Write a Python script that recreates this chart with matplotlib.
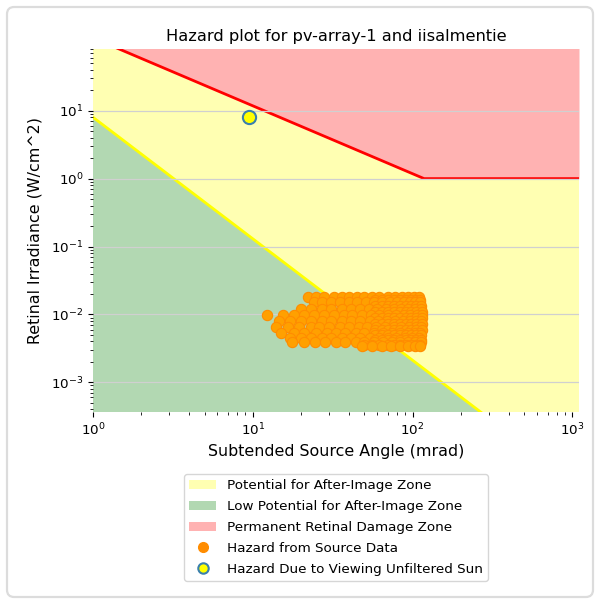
import matplotlib
matplotlib.use("Agg")
import matplotlib.pyplot as plt
from matplotlib.patches import FancyBboxPatch, Patch
from matplotlib.lines import Line2D

# Zone boundaries (angle in mrad, retinal irradiance in W/cm^2)
burn_angle = [1.0, 118.0, 1100.0]
burn_irr = [118.0, 1.0, 1.0]
flash_angle = [1.0, 1100.0]
flash_irr = [8.0, 2.9e-5]

x_limits = [1.0, 1100.0]
y_limits = [3.66e-4, 81.0]

# Glare events from source data, grouped by irradiance level
src_levels = [0.0182, 0.0165, 0.0150, 0.0135, 0.0122, 0.0110, 0.0098, 0.0088,
              0.0080, 0.0072, 0.0066, 0.0060, 0.0054, 0.0050, 0.0045, 0.0042,
              0.0039, 0.0036, 0.0034]
src_angles = [
    [22, 25, 28, 32, 36, 40, 45, 50, 56, 62, 70, 78, 86, 94, 102, 110],
    [58, 64, 70, 77, 84, 91, 98, 105, 112],
    [24, 27, 31, 35, 40, 45, 51, 57, 64, 72, 80, 88, 96, 104, 112],
    [58, 64, 70, 77, 84, 91, 98, 105, 113],
    [20, 23, 27, 31, 36, 41, 47, 53, 60, 68, 76, 85, 94, 103, 113],
    [58, 64, 70, 77, 84, 91, 98, 105, 114],
    [12.2, 15.5, 18, 21, 24, 28, 32, 37, 42, 48, 55, 62, 70, 79, 88, 97, 106, 114],
    [58, 64, 70, 77, 84, 91, 98, 105, 114],
    [14.5, 17, 20, 23, 27, 31, 36, 41, 47, 54, 61, 69, 78, 87, 96, 105, 113],
    [58, 64, 70, 77, 84, 91, 98, 105, 114],
    [14, 16.5, 19.5, 23, 26, 30, 35, 40, 46, 52, 59, 67, 76, 85, 95, 105, 113],
    [58, 64, 70, 77, 84, 91, 98, 105, 114],
    [15, 18, 21, 25, 29, 33, 38, 44, 50, 57, 65, 74, 83, 93, 103, 112],
    [58, 64, 70, 77, 84, 91, 98, 105, 113],
    [17, 20, 23, 27, 31, 36, 41, 47, 54, 62, 70, 79, 89, 99, 109],
    [58, 64, 70, 77, 84, 91, 98, 105, 113],
    [17.5, 21, 24.5, 28.5, 33, 38, 44, 50, 57, 65, 74, 84, 94, 104, 113],
    [50, 56, 62, 70, 77, 84, 91, 98, 105, 112],
    [48, 56, 64, 73, 83, 93, 104, 112],
]

# Unfiltered sun reference point
sun_angle = [9.5]
sun_irr = [8.0]

c_yellow = "#ffffb2"
c_green = "#b2d8b2"
c_red = "#ffb2b2"

src_x = [a for row in src_angles for a in row]
src_y = [lvl for lvl, row in zip(src_levels, src_angles) for _ in row]

fig = plt.figure(figsize=(6.0, 5.99), dpi=100)
fig.patches.append(FancyBboxPatch(
    (7 / 600, 2 / 599), 586 / 600, 590 / 599,
    boxstyle="round,pad=0,rounding_size=0.012",
    transform=fig.transFigure, facecolor="white", edgecolor="#dcdcdc",
    linewidth=1.6, zorder=-10))

ax = fig.add_axes([93 / 600, 1 - 412 / 599, 486 / 600, 363 / 599])
ax.set_xscale("log")
ax.set_yscale("log")

ax.fill_between(x_limits, [1e-8, 1e-8], [1e4, 1e4], color=c_yellow,
                linewidth=0, zorder=1)
ax.fill_between(flash_angle, [1e-8, 1e-8], flash_irr, color=c_green,
                linewidth=0, zorder=1.2)
ax.fill_between(burn_angle, burn_irr, [1e4] * 3, color=c_red,
                linewidth=0, zorder=1.2)
ax.plot(flash_angle, flash_irr, color="yellow", lw=2.0, zorder=2)
ax.plot(burn_angle, burn_irr, color="red", lw=2.0, zorder=2)

ax.scatter(src_x, src_y, s=55, facecolor="#ffa000", edgecolor="#ff8c00",
           linewidths=0.8, zorder=3)
ax.plot(sun_angle, sun_irr, "o", ms=9.5, mfc="yellow", mec="#3a80ad",
        mew=1.5, zorder=4)

ax.set_xlim(x_limits)
ax.set_ylim(y_limits)
ax.yaxis.grid(True, color="#d0d0d0", lw=0.9, zorder=1.5)
ax.set_axisbelow(False)
for s in ax.spines.values():
    s.set_visible(False)
ax.tick_params(labelsize=9.7)

ax.set_title("Hazard plot for pv-array-1 and iisalmentie", fontsize=11.7)
ax.set_xlabel("Subtended Source Angle (mrad)", fontsize=11.4)
ax.set_ylabel("Retinal Irradiance (W/cm^2)", fontsize=11.4, labelpad=6)

handles = [
    Patch(facecolor=c_yellow, label="Potential for After-Image Zone"),
    Patch(facecolor=c_green, label="Low Potential for After-Image Zone"),
    Patch(facecolor=c_red, label="Permanent Retinal Damage Zone"),
    Line2D([], [], ls="", marker="o", ms=7, mfc="#ff8c00", mec="#ff8c00",
           label="Hazard from Source Data"),
    Line2D([], [], ls="", marker="o", ms=7.5, mfc="yellow", mec="#3a80ad",
           mew=1.5, label="Hazard Due to Viewing Unfiltered Sun"),
]
fig.legend(handles=handles, loc="upper center",
           bbox_to_anchor=(336 / 600, 1 - 474 / 599), borderaxespad=0,
           fontsize=9.7, labelspacing=0.58)

fig.savefig("out.png", dpi=100)
